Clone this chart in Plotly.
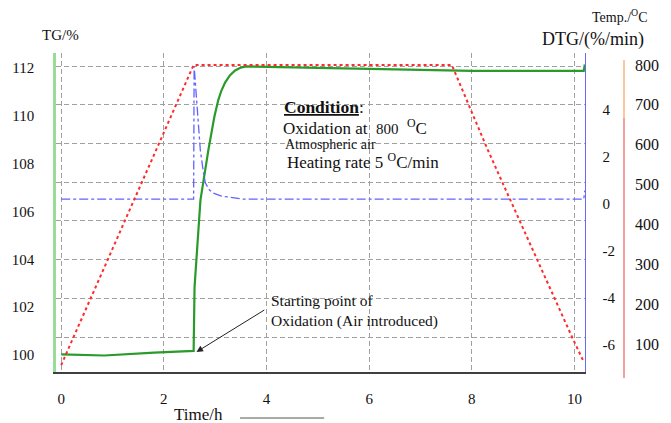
import plotly.graph_objects as go

# ---------------- data ----------------
time_tg = [0.0, 0.84, 1.81, 2.58, 2.598, 2.636, 2.675, 2.713, 2.867, 2.983, 3.06, 3.12, 3.195,
           3.29, 3.388, 3.5, 3.6, 4.0, 5.0, 6.0, 7.0, 8.0, 9.0, 10.18, 10.2]
tg = [100.03, 99.98, 100.1, 100.17, 102.84, 103.97, 105.2, 106.48, 108.57, 109.95, 110.66, 111.05,
      111.4, 111.7, 111.9, 112.02, 112.07, 112.05, 112.0, 111.95, 111.9, 111.88, 111.88, 111.88,
      112.15]

time_dtg = [0.0, 2.58, 2.59, 2.655, 2.71, 2.77, 2.81, 2.89, 2.96, 3.12, 3.29, 3.54, 10.18, 10.2]
dtg = [0.19, 0.19, 5.85, 3.98, 2.28, 1.34, 0.87, 0.575, 0.45, 0.32, 0.28, 0.19, 0.19, 0.55]

time_temp = [0.0, 2.58, 7.61, 8.31, 8.75, 9.26, 9.60, 9.95, 10.18]
temp = [47, 800, 800, 587, 461, 313, 218, 118, 55]

x_ticks = [0, 2, 4, 6, 8, 10]
tg_ticks = [100, 102, 104, 106, 108, 110, 112]
dtg_ticks = [-6, -4, -2, 0, 2, 4]
dtg_labels = ["-6", "-4", "-2", "0", "2", "4"]
temp_ticks = [100, 200, 300, 400, 500, 600, 700, 800]
grid_ticks = [0, 1, 2, 3, 4, 5, 6, 7]

# ---------------- layout helpers ----------------
FW, FH = 671, 423
L, T, R, B = 51, 53, 625, 372
PW, PH = R - L, B - T
XR = 586  # right edge of main plot (DTG axis)


def px(x):
    return (x - L) / PW


def py(y):
    return 1 - (y - T) / PH


SERIF = "Times New Roman, Liberation Serif, DejaVu Serif, serif"
TXT = "#111111"
GRID = "#a0a0a0"
DASH = "5px,3px"

fig = go.Figure()

fig.add_trace(go.Scatter(x=[0, 10], y=[0, 7], yaxis="y", mode="markers",
                         marker=dict(size=1, opacity=0), showlegend=False, hoverinfo="skip"))
fig.add_trace(go.Scatter(x=time_temp, y=temp, yaxis="y4", mode="lines",
                         line=dict(color="#ff2a2a", width=2, dash="dot"),
                         showlegend=False, hoverinfo="skip"))
fig.add_trace(go.Scatter(x=time_dtg, y=dtg, yaxis="y3", mode="lines",
                         line=dict(color="#6262ff", width=1.3, dash="dashdot"),
                         showlegend=False, hoverinfo="skip"))
fig.add_trace(go.Scatter(x=time_tg, y=tg, yaxis="y2", mode="lines",
                         line=dict(color="#2a9a2a", width=2.2),
                         showlegend=False, hoverinfo="skip"))

tickfont = dict(family=SERIF, size=15, color=TXT)

fig.update_layout(
    width=FW, height=FH,
    margin=dict(l=L, r=FW - R, t=T, b=FH - B),
    paper_bgcolor="white", plot_bgcolor="white",
    font=dict(family=SERIF, color=TXT),
    xaxis=dict(domain=[0, px(XR)], range=[-0.101, 10.212], tickvals=x_ticks,
               showgrid=True, gridcolor=GRID, griddash=DASH, gridwidth=1,
               zeroline=False, showline=True, linecolor="#404040", linewidth=1.5,
               ticks="", ticklabelstandoff=12, tickfont=tickfont),
    # grid axis
    yaxis=dict(range=[-0.904, 7.336], tickvals=grid_ticks, showticklabels=False,
               showgrid=True, gridcolor=GRID, griddash=DASH, gridwidth=1,
               zeroline=False, showline=False, ticks=""),
    # TG
    yaxis2=dict(overlaying="y", side="left", anchor="x", range=[99.29, 112.63],
                tickvals=tg_ticks, showgrid=False, zeroline=False,
                showline=True, linecolor="#98dc98", linewidth=2.5, ticks="",
                ticklabelstandoff=16, tickfont=tickfont),
    # DTG
    yaxis3=dict(overlaying="y", side="right", anchor="x", range=[-7.17, 6.41],
                tickvals=dtg_ticks, ticktext=dtg_labels, showgrid=False, zeroline=False,
                showline=True, linecolor="#6a6af0", linewidth=1.3, ticks="",
                ticklabelstandoff=13, tickfont=tickfont),
    # Temperature
    yaxis4=dict(overlaying="y", side="right", anchor="free", position=1.0,
                range=[29.8, 830.1], tickvals=temp_ticks, showgrid=False, zeroline=False,
                showline=False, ticks="", ticklabelstandoff=10,
                tickfont=dict(family=SERIF, size=16, color=TXT)),
)

# temperature axis line (two-tone) and Time/h underline
fig.add_shape(type="line", xref="paper", yref="paper", x0=px(625), x1=px(625),
              y0=py(118), y1=py(378), line=dict(color="#f4a0a0", width=2))
fig.add_shape(type="line", xref="paper", yref="paper", x0=px(625), x1=px(625),
              y0=py(60), y1=py(118), line=dict(color="#f9c8a0", width=2))
fig.add_shape(type="line", xref="paper", yref="paper", x0=px(237), x1=px(322),
              y0=py(418), y1=py(418), line=dict(color="#555555", width=1))


def label(text, x, y, size, xanchor="left"):
    fig.add_annotation(text=text, xref="paper", yref="paper", x=px(x), y=py(y),
                       xanchor=xanchor, yanchor="middle", showarrow=False, align="left",
                       borderpad=0, font=dict(family=SERIF, size=size, color=TXT))


label("TG/%", 36, 35, 15)
label("Temp./<sup>O</sup>C", 592, 16, 14)
label("DTG/(%/min)", 541, 40, 18)
label("Time/h", 169, 414, 17)

label("<b><u>Condition</u></b>:", 280, 107, 17.5)
label("Oxidation at  <span style='font-size:15px'>800</span>  <sup>O</sup>C", 279, 127, 17)
label("Atmospheric air", 281, 144, 14)
label("Heating rate 5 <sup>O</sup>C/min", 283, 161, 17)

fig.add_annotation(text="Starting point of<br>Oxidation (Air introduced)", xref="paper",
                   yref="paper", x=px(267), y=py(311), xanchor="left", yanchor="middle",
                   showarrow=False, align="left", borderpad=0,
                   font=dict(family=SERIF, size=15.5, color=TXT))

# arrow to starting point of oxidation
fig.add_annotation(text="", x=2.636, y=100.13, xref="x", yref="y2",
                   ax=3.986, ay=101.92, axref="x", ayref="y2",
                   showarrow=True, arrowhead=2, arrowsize=1.3, arrowwidth=1,
                   arrowcolor="#222222", standoff=0)

fig.write_html("out.html")
